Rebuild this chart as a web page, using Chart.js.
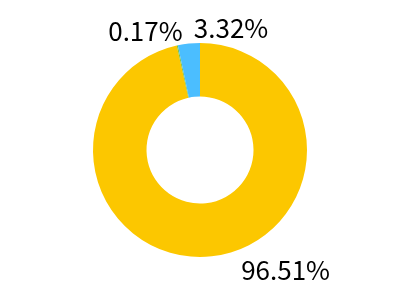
<!DOCTYPE html>
<html><head><meta charset="utf-8">
<script src="https://cdn.jsdelivr.net/npm/chart.js@4/dist/chart.umd.min.js"></script>
<style>html,body{margin:0;padding:0;background:#fff}#wrap{width:400px;height:300px}</style>
</head><body><div id="wrap"><canvas id="c" width="400" height="300"></canvas></div>
<script>
const categories = ['A', 'B', 'C'];
const values = [96.51, 0.17, 3.32];
const labelsText = ['96.51%', '0.17%', '3.32%'];
const colors = ['#FCC700', '#7DC142', '#4BBEFF'];

// label placement relative to doughnut center, in units of outer radius
const labelPlace = [[0.80, 1.12], [-0.51, -1.11], [0.29, -1.14]];

const labelPlugin = {
  id: 'pctLabels',
  afterDatasetsDraw(chart) {
    const ctx = chart.ctx;
    const meta = chart.getDatasetMeta(0);
    ctx.save();
    ctx.font = '26px "Noto Sans CJK SC"';
    ctx.fillStyle = '#000';
    ctx.textAlign = 'center';
    ctx.textBaseline = 'middle';
    meta.data.forEach((arc, i) => {
      const p = arc.getProps(['x', 'y', 'outerRadius'], true);
      const [fx, fy] = labelPlace[i];
      ctx.fillText(labelsText[i], p.x + fx * p.outerRadius, p.y + fy * p.outerRadius);
    });
    ctx.restore();
  }
};

new Chart(document.getElementById('c'), {
  type: 'doughnut',
  data: { labels: categories, datasets: [{ data: values, backgroundColor: colors, borderWidth: 0 }] },
  options: {
    responsive: false,
    animation: false,
    cutout: '50%',
    layout: { padding: { top: 43, bottom: 43, left: 0, right: 0 } },
    plugins: { legend: { display: false }, tooltip: { enabled: false } }
  },
  plugins: [labelPlugin]
});
</script></body></html>
